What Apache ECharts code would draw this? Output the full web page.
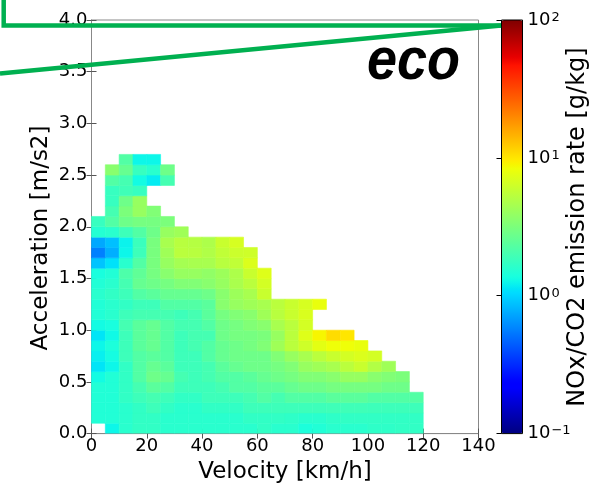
<!DOCTYPE html>
<html>
<head>
<meta charset="utf-8">
<script src="https://cdn.jsdelivr.net/npm/echarts@6/dist/echarts.min.js"></script>
<style>
  html, body { margin: 0; padding: 0; background: #fff; }
  #chart { width: 606px; height: 490px; }
</style>
</head>
<body>
<div id="chart"></div>
<script>
// bins: velocity 5 km/h wide, acceleration 0.1 m/s2 tall (lower edges)
var velocityBins = [0, 5, 10, 15, 20, 25, 30, 35, 40, 45, 50, 55, 60, 65, 70, 75, 80, 85, 90, 95, 100, 105, 110, 115];
var accelBins = [0.0, 0.1, 0.2, 0.3, 0.4, 0.5, 0.6, 0.7, 0.8, 0.9, 1.0, 1.1, 1.2, 1.3, 1.4, 1.5, 1.6, 1.7, 1.8, 1.9, 2.0, 2.1, 2.2, 2.3, 2.4, 2.5, 2.6];

// log10 of NOx/CO2 emission rate [g/kg], one array per acceleration bin, one value per velocity bin
var a00 = [null, 0.10, 0.20, 0.23, 0.23, 0.20, 0.20, 0.20, 0.20, 0.20, 0.20, 0.20, 0.23, 0.20, 0.20, 0.15, 0.17, 0.20, 0.20, 0.20, 0.22, 0.22, 0.23, 0.23];
var a01 = [0.17, 0.17, 0.20, 0.23, 0.23, 0.20, 0.20, 0.20, 0.20, 0.20, 0.20, 0.23, 0.23, 0.23, 0.22, 0.20, 0.20, 0.22, 0.23, 0.23, 0.23, 0.23, 0.23, 0.23];
var a02 = [0.17, 0.17, 0.20, 0.23, 0.27, 0.23, 0.20, 0.20, 0.23, 0.23, 0.23, 0.27, 0.27, 0.27, 0.27, 0.27, 0.27, 0.28, 0.28, 0.28, 0.27, 0.27, 0.27, 0.27];
var a03 = [0.17, 0.17, 0.23, 0.27, 0.30, 0.27, 0.23, 0.23, 0.27, 0.27, 0.27, 0.30, 0.35, 0.30, 0.35, 0.35, 0.35, 0.38, 0.38, 0.38, 0.35, 0.35, 0.35, 0.35];
var a04 = [0.17, 0.17, 0.23, 0.30, 0.38, 0.35, 0.27, 0.27, 0.27, 0.30, 0.35, 0.35, 0.38, 0.38, 0.42, 0.45, 0.45, 0.48, 0.48, 0.48, 0.48, 0.45, 0.45];
var a05 = [0.12, 0.17, 0.23, 0.35, 0.45, 0.42, 0.30, 0.27, 0.30, 0.35, 0.35, 0.38, 0.42, 0.45, 0.48, 0.52, 0.52, 0.55, 0.60, 0.60, 0.55, 0.52, 0.50];
var a06 = [0.05, 0.10, 0.23, 0.35, 0.42, 0.38, 0.27, 0.27, 0.30, 0.38, 0.42, 0.45, 0.45, 0.48, 0.52, 0.60, 0.63, 0.66, 0.73, 0.78, 0.70, 0.63];
var a07 = [0.08, 0.13, 0.27, 0.35, 0.38, 0.35, 0.27, 0.27, 0.35, 0.42, 0.45, 0.45, 0.45, 0.52, 0.60, 0.66, 0.73, 0.78, 0.82, 0.85, 0.82];
var a08 = [0.10, 0.15, 0.27, 0.38, 0.42, 0.35, 0.27, 0.30, 0.35, 0.42, 0.45, 0.48, 0.52, 0.63, 0.73, 0.80, 0.88, 0.92, 0.92, 0.90];
var a09 = [0.05, 0.11, 0.27, 0.38, 0.42, 0.35, 0.27, 0.30, 0.30, 0.45, 0.48, 0.48, 0.50, 0.60, 0.73, 0.86, 0.95, 1.03, 1.00];
var a10 = [0.12, 0.14, 0.30, 0.38, 0.42, 0.35, 0.30, 0.30, 0.35, 0.45, 0.48, 0.52, 0.55, 0.66, 0.73, 0.82];
var a11 = [0.17, 0.20, 0.27, 0.30, 0.30, 0.30, 0.27, 0.30, 0.38, 0.48, 0.52, 0.55, 0.63, 0.72, 0.78, 0.84];
var a12 = [0.17, 0.20, 0.23, 0.27, 0.27, 0.35, 0.35, 0.35, 0.38, 0.55, 0.60, 0.63, 0.66, 0.73, 0.78, 0.83, 0.90];
var a13 = [0.20, 0.23, 0.27, 0.35, 0.38, 0.42, 0.42, 0.42, 0.45, 0.55, 0.62, 0.66, 0.78];
var a14 = [0.17, 0.20, 0.30, 0.42, 0.45, 0.48, 0.52, 0.52, 0.55, 0.60, 0.67, 0.73, 0.82];
var a15 = [0.14, 0.17, 0.33, 0.40, 0.48, 0.55, 0.60, 0.60, 0.58, 0.62, 0.68, 0.78, 0.86];
var a16 = [-0.05, 0.04, 0.20, 0.35, 0.49, 0.60, 0.65, 0.66, 0.66, 0.72, 0.75, 0.85];
var a17 = [-0.25, -0.11, 0.10, 0.27, 0.49, 0.63, 0.73, 0.72, 0.69, 0.75, 0.79, 0.80];
var a18 = [-0.13, -0.06, 0.09, 0.26, 0.49, 0.66, 0.72, 0.71, 0.68, 0.78, 0.83];
var a19 = [0.18, 0.20, 0.27, 0.35, 0.45, 0.60, 0.63];
var a20 = [0.25, 0.35, 0.45, 0.48, 0.48, 0.50];
var a21 = [null, 0.30, 0.50, 0.60, 0.52];
var a22 = [null, 0.25, 0.45, 0.60];
var a23 = [null, 0.25, 0.28, 0.25];
var a24 = [null, 0.35, 0.30, 0.12, 0.07, 0.30];
var a25 = [null, 0.55, 0.42, 0.25, 0.20, 0.45];
var a26 = [null, null, 0.35, 0.10, 0.10];

var rateRows = [a00, a01, a02, a03, a04, a05, a06, a07, a08, a09, a10, a11, a12, a13,
  a14, a15, a16, a17, a18, a19, a20, a21, a22, a23, a24, a25, a26];

var cbarExponents = [-1, 0, 1, 2];

var binW = 5;
var binH = 0.1;

// matplotlib "jet" colormap
function jet(t) {
  var seg = {
    r: [[0, 0], [0.35, 0], [0.66, 1], [0.89, 1], [1, 0.5]],
    g: [[0, 0], [0.125, 0], [0.375, 1], [0.64, 1], [0.91, 0], [1, 0]],
    b: [[0, 0.5], [0.11, 1], [0.34, 1], [0.65, 0], [1, 0]]
  };
  function ch(s) {
    for (var i = 1; i < s.length; i++) {
      if (t <= s[i][0]) {
        var f = (t - s[i - 1][0]) / (s[i][0] - s[i - 1][0]);
        return s[i - 1][1] + f * (s[i][1] - s[i - 1][1]);
      }
    }
    return s[s.length - 1][1];
  }
  return "rgb(" + Math.round(ch(seg.r) * 255) + "," + Math.round(ch(seg.g) * 255) + "," + Math.round(ch(seg.b) * 255) + ")";
}
var jetColors = [];
for (var k = 0; k <= 100; k++) jetColors.push(jet(k / 100));

var cells = [];
for (var r = 0; r < rateRows.length; r++) {
  for (var c = 0; c < rateRows[r].length; c++) {
    if (rateRows[r][c] !== null) cells.push([velocityBins[c], accelBins[r], rateRows[r][c]]);
  }
}

var FONT = "DejaVu Sans";
var chartDom = document.getElementById("chart");
var myChart = echarts.init(chartDom, null, { renderer: "canvas" });

var option = {
  animation: false,
  backgroundColor: "#fff",
  grid: [
    { left: 91.5, top: 20, width: 387, height: 413.6, show: true, borderColor: "#888", borderWidth: 1, backgroundColor: "#fff" },
    { left: 501.5, top: 20, width: 21, height: 413.6 }
  ],
  xAxis: [
    {
      type: "value", gridIndex: 0, min: 0, max: 140, interval: 20,
      name: "Velocity [km/h]", nameLocation: "middle", nameGap: 23,
      nameTextStyle: { fontFamily: FONT, fontSize: 23, color: "#000" },
      axisLine: { show: true, lineStyle: { color: "#888" } },
      axisTick: { inside: true, length: 5, lineStyle: { color: "#555" } },
      axisLabel: { margin: 4, fontFamily: FONT, fontSize: 18, color: "#000" },
      splitLine: { show: false }
    },
    {
      type: "value", gridIndex: 0, position: "top", min: 0, max: 140, interval: 20,
      axisLine: { show: true, lineStyle: { color: "#888" } },
      axisTick: { inside: true, length: 5, lineStyle: { color: "#555" } },
      axisLabel: { show: false }, splitLine: { show: false }
    },
    { type: "value", gridIndex: 1, show: false, min: 0, max: 1 }
  ],
  yAxis: [
    {
      type: "value", gridIndex: 0, min: 0, max: 4, interval: 0.5,
      axisLine: { show: true, lineStyle: { color: "#888" } },
      axisTick: { inside: true, length: 5, lineStyle: { color: "#555" } },
      axisLabel: { margin: 4, fontFamily: FONT, fontSize: 18, color: "#000", formatter: function (v) { return v.toFixed(1); } },
      splitLine: { show: false }
    },
    {
      type: "value", gridIndex: 0, position: "right", min: 0, max: 4, interval: 0.5,
      axisLine: { show: true, lineStyle: { color: "#888" } },
      axisTick: { inside: true, length: 5, lineStyle: { color: "#555" } },
      axisLabel: { show: false }, splitLine: { show: false }
    },
    {
      type: "value", gridIndex: 1, position: "right", min: cbarExponents[0], max: cbarExponents[cbarExponents.length - 1], interval: 1,
      axisLine: { show: false },
      axisTick: { inside: true, length: 5, lineStyle: { color: "#000" } },
      axisLabel: {
        margin: 5, color: "#000",
        formatter: function (v) { return "{b|10}{s|" + (v < 0 ? "\u2212" : "") + Math.abs(v) + "}"; },
        rich: {
          b: { fontFamily: FONT, fontSize: 18, lineHeight: 18, verticalAlign: "bottom", color: "#000" },
          s: { fontFamily: FONT, fontSize: 13, lineHeight: 13, verticalAlign: "top", padding: [0, 0, 10, 1], color: "#000" }
        }
      },
      splitLine: { show: false }
    }
  ],
  visualMap: {
    type: "continuous",
    seriesIndex: 0,
    dimension: 2,
    min: -1,
    max: 2,
    calculable: false,
    orient: "vertical",
    left: 501.5,
    top: 20,
    padding: 0,
    itemWidth: 21,
    itemHeight: 413.6,
    text: null,
    showLabel: false,
    inRange: { color: jetColors }
  },
  series: [
    {
      type: "custom",
      xAxisIndex: 0,
      yAxisIndex: 0,
      data: cells,
      encode: { x: 0, y: 1 },
      clip: true,
      renderItem: function (params, api) {
        var x0 = api.value(0), y0 = api.value(1);
        var p1 = api.coord([x0, y0 + binH]);
        var p2 = api.coord([x0 + binW, y0]);
        var col = api.visual("color");
        return {
          type: "rect",
          shape: { x: p1[0], y: p1[1], width: p2[0] - p1[0], height: p2[1] - p1[1] },
          style: { fill: col, stroke: col, lineWidth: 0.6 }
        };
      }
    }
  ],
  graphic: [
    { type: "rect", z: 50, shape: { x: 501.5, y: 20, width: 21, height: 413.6 }, style: { fill: null, stroke: "#000", lineWidth: 1 } },
    {
      type: "text", z: 50, x: 41, y: 238, rotation: Math.PI / 2,
      style: { text: "Acceleration [m/s2]", fontFamily: FONT, fontSize: 23, fill: "#000", align: "center", verticalAlign: "middle" }
    },
    {
      type: "text", z: 50, x: 578, y: 227, rotation: Math.PI / 2,
      style: { text: "NOx/CO2 emission rate [g/kg]", fontFamily: FONT, fontSize: 24, fill: "#000", align: "center", verticalAlign: "middle" }
    },
    {
      type: "text", z: 50, x: 367, y: 62, scaleX: 0.9,
      style: { text: "eco", fontFamily: "Liberation Sans", fontStyle: "italic", fontWeight: "bold", fontSize: 60, fill: "#000", align: "left", verticalAlign: "middle" }
    },
    { type: "polyline", z: 60, shape: { points: [[3.7, 0], [3.7, 25.5], [501, 25.5]] }, style: { fill: null, stroke: "#00b050", lineWidth: 4.5 } },
    { type: "line", z: 60, shape: { x1: 0, y1: 73.5, x2: 501, y2: 25.5 }, style: { stroke: "#00b050", lineWidth: 4.5 } }
  ]
};

myChart.setOption(option);
</script>
</body>
</html>
